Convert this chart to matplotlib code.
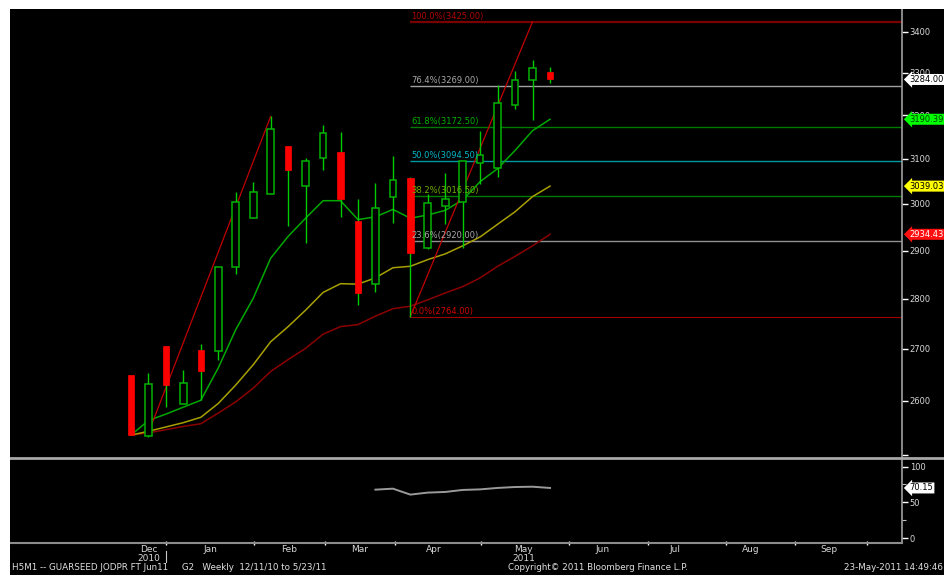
import matplotlib
matplotlib.use("Agg")
import matplotlib.pyplot as plt
from matplotlib.patches import Rectangle
from matplotlib.lines import Line2D
from matplotlib.ticker import FixedLocator, FixedFormatter, NullLocator

# ---------------- data (weekly bars, 12/11/10 to 5/23/11) ----------------
opens  = [2649, 2535, 2706, 2593, 2698, 2696, 2866, 2970, 3022, 3130, 3040, 3101, 3115,
          2964, 2830, 3016, 3058, 2905, 2996, 3005, 3090, 3080, 3224, 3283, 3301]
highs  = [2649, 2653, 2706, 2659, 2709, 2866, 3026, 3048, 3197, 3130, 3101, 3176, 3161,
          3011, 3046, 3107, 3060, 3022, 3068, 3096, 3163, 3272, 3305, 3331, 3313]
lows   = [2536, 2533, 2589, 2593, 2601, 2679, 2850, 2970, 3022, 2953, 2916, 3075, 2971,
          2787, 2814, 2959, 2764, 2903, 2957, 2905, 3044, 3060, 3214, 3189, 3276]
closes = [2536, 2632, 2630, 2634, 2656, 2866, 3005, 3026, 3169, 3075, 3095, 3158, 3010,
          2812, 2992, 3053, 2895, 3003, 3011, 3094, 3109, 3228, 3283, 3312, 3284]

ma_fast = [2536, 2563, 2575, 2588, 2601, 2663, 2738, 2801, 2884, 2930, 2969, 3007, 3007,
           2966, 2972, 2988, 2969, 2976, 2986, 3009, 3049, 3078, 3119, 3164, 3190.39]
ma_mid  = [2536, 2543, 2551, 2559, 2569, 2595, 2630, 2669, 2714, 2744, 2777, 2813, 2831,
           2830, 2843, 2864, 2867, 2881, 2893, 2910, 2929, 2956, 2983, 3016, 3039.03]
ma_slow = [2536, 2540, 2546, 2552, 2557, 2577, 2598, 2624, 2656, 2679, 2701, 2729, 2744,
           2748, 2765, 2780, 2785, 2798, 2812, 2825, 2843, 2867, 2888, 2910, 2934.43]

rsi_start = 14
rsi_vals = [67.8, 69.2, 60.9, 63.7, 64.6, 67.4, 68.2, 70.2, 71.5, 71.9, 70.15]

trend1 = [(1, 2540), (8, 3197)]
trend2 = [(16, 2764), (23, 3425)]

fib_pcts   = [100.0, 76.4, 61.8, 50.0, 38.2, 23.6, 0.0]
fib_levels = [3425.00, 3269.00, 3172.50, 3094.50, 3016.50, 2920.00, 2764.00]
fib_start = 16

price_ticks = [2500, 2600, 2700, 2800, 2900, 3000, 3100, 3200, 3300, 3400]
price_tick_labels = ["", "2600", "2700", "2800", "2900", "3000", "3100", "3200", "3300", "3400"]

month_bounds = [2.0, 7.04, 11.11, 15.12, 20.05, 25.09, 29.61, 34.08, 38.03, 42.15]
month_label_pos = [1.03, 4.53, 9.05, 13.1, 17.33, 22.5, 26.98, 31.16, 35.5, 40.0]
month_labels = ["Dec\n2010", "Jan", "Feb", "Mar", "Apr", "May\n2011", "Jun", "Jul", "Aug", "Sep"]

last_price = 3284.00

footer_left = "H5M1 -- GUARSEED JODPR FT Jun11     G2   Weekly  12/11/10 to 5/23/11"
footer_mid = "Copyright\u00a9 2011 Bloomberg Finance L.P."
footer_right = "23-May-2011 14:49:46"

# ---------------- layout helpers ----------------
W, H = 944, 575
def fx(px): return px / W
def fy(py): return 1 - py / H

fig = plt.figure(figsize=(W / 100, H / 100), dpi=100, facecolor="black")

XL = (-6.93, 44.16)
ax = fig.add_axes([fx(10), fy(457), fx(902) - fx(10), fy(9) - fy(457)], facecolor="black")
ax2 = fig.add_axes([fx(10), fy(543), fx(902) - fx(10), fy(459) - fy(543)], facecolor="black")

# ---------------- main panel ----------------
ax.set_yscale("log")
ax.set_ylim(2495.9, 3456.6)
ax.set_xlim(*XL)

x = list(range(len(opens)))
up_col = "#00b400"
wick_col = "#00cc00"
down_col = "#ff0000"
bw = 0.38

ax.vlines(x, lows, highs, color=wick_col, lw=1.0, zorder=3)
for i in x:
    o, c = opens[i], closes[i]
    lo, hi = min(o, c), max(o, c)
    if c >= o:
        ax.bar(i, hi - lo, bottom=lo, width=bw, facecolor="black", edgecolor=up_col,
               linewidth=1.1, zorder=4)
    else:
        ax.bar(i, hi - lo, bottom=lo, width=bw, facecolor=down_col, edgecolor=down_col,
               linewidth=0.5, zorder=4)

ax.plot(x, ma_slow, color="#8b0000", lw=1.1, zorder=2)
ax.plot(x, ma_mid, color="#a8a000", lw=1.1, zorder=2)
ax.plot(x, ma_fast, color="#00a800", lw=1.1, zorder=2)

for tl in (trend1, trend2):
    ax.plot([tl[0][0], tl[1][0]], [tl[0][1], tl[1][1]], color="#c00000", lw=0.9, zorder=2)

fib_line_cols = ["#7a0000", "#a0a0a0", "#007a00", "#009aa0", "#007a00", "#909090", "#a00000"]
fib_text_cols = ["#b00000", "#a8a8a8", "#00b000", "#00b8c8", "#70b000", "#a8a8a8", "#d00000"]
fib_lws = [1.6, 1.0, 1.0, 1.0, 1.0, 1.0, 0.8]
for p, lv, lc, tc, lw in zip(fib_pcts, fib_levels, fib_line_cols, fib_text_cols, fib_lws):
    ax.hlines(lv, fib_start, XL[1], color=lc, lw=lw, zorder=1)
    ax.annotate(f"{p:.1f}%({lv:.2f})", (fib_start, lv), xytext=(0.8, 0.8),
                textcoords="offset points", va="bottom", ha="left", fontsize=6,
                color=tc, zorder=5)

ax.yaxis.tick_right()
ax.yaxis.set_major_locator(FixedLocator(price_ticks))
ax.yaxis.set_major_formatter(FixedFormatter(price_tick_labels))
ax.yaxis.set_minor_locator(NullLocator())
ax.tick_params(axis="y", which="major", direction="out", length=4, width=1,
               color="white", labelcolor="#d8d8d8", labelsize=6, pad=1.5)
ax.tick_params(axis="x", which="both", bottom=False, labelbottom=False)
for s in ("left", "top", "bottom"):
    ax.spines[s].set_visible(False)
ax.spines["right"].set_color("#a0a0a0")
ax.spines["right"].set_linewidth(1.2)

# right tags
tags = [(last_price, "white", "black"), (ma_fast[-1], "#00ff00", "#004000"),
        (ma_mid[-1], "#ffff00", "#000000"), (ma_slow[-1], "#ff1010", "white")]
for v, bg, fg in tags:
    ax.annotate(f"{v:.2f}", xy=(1.0, v), xycoords=("axes fraction", "data"),
                xytext=(5.5, 0), textcoords="offset points", va="center", ha="left",
                fontsize=6, color=fg, annotation_clip=False, zorder=10,
                bbox=dict(boxstyle="larrow,pad=0.12", fc=bg, ec="none"))

# ---------------- lower panel ----------------
ax2.set_xlim(*XL)
ax2.set_ylim(-6.5, 110.5)
ax2.plot(range(rsi_start, rsi_start + len(rsi_vals)), rsi_vals, color="#9a9a9a", lw=1.4)
ax2.yaxis.tick_right()
ax2.yaxis.set_major_locator(FixedLocator([0, 50, 100]))
ax2.yaxis.set_minor_locator(FixedLocator([25, 75]))
ax2.tick_params(axis="y", which="major", direction="out", length=4, width=1,
                color="white", labelcolor="#d8d8d8", labelsize=6, pad=1.5)
ax2.tick_params(axis="y", which="minor", direction="out", length=3, width=0.8, color="#c0c0c0")
ax2.annotate(f"{rsi_vals[-1]:.2f}", xy=(1.0, rsi_vals[-1]), xycoords=("axes fraction", "data"),
             xytext=(5.5, 0), textcoords="offset points", va="center", ha="left",
             fontsize=6, color="black", annotation_clip=False, zorder=10,
             bbox=dict(boxstyle="larrow,pad=0.12", fc="white", ec="none"))

ax2.xaxis.set_major_locator(FixedLocator(month_bounds))
ax2.xaxis.set_major_formatter(FixedFormatter([""] * len(month_bounds)))
ax2.xaxis.set_minor_locator(FixedLocator(month_label_pos))
ax2.xaxis.set_minor_formatter(FixedFormatter(month_labels))
ax2.tick_params(axis="x", which="major", direction="inout", length=3, width=1, color="white")
ax2.tick_params(axis="x", which="minor", length=0, labelsize=6.5, labelcolor="#d8d8d8", pad=1.5)
for lbl in ax2.xaxis.get_minorticklabels():
    lbl.set_linespacing(1.0)
for s in ("left", "top"):
    ax2.spines[s].set_visible(False)
ax2.spines["right"].set_color("#a0a0a0")
ax2.spines["right"].set_linewidth(1.2)
ax2.spines["bottom"].set_color("#8c8c8c")
ax2.spines["bottom"].set_linewidth(1.5)

# ---------------- figure decorations ----------------
fig.add_artist(Rectangle((0, fy(9)), 1, 1 - fy(9), transform=fig.transFigure,
                         facecolor="white", edgecolor="none", zorder=20))
fig.add_artist(Rectangle((0, 0), fx(10), 1, transform=fig.transFigure,
                         facecolor="white", edgecolor="none", zorder=20))
fig.add_artist(Line2D([fx(10), 1], [fy(458), fy(458)], transform=fig.transFigure,
                      color="#a8a8a8", lw=2.0, zorder=15))
fig.add_artist(Line2D([fx(166), fx(166)], [fy(551), fy(562)], transform=fig.transFigure,
                      color="#c8c8c8", lw=0.8))

fig.text(fx(12), fy(567), footer_left, fontsize=6.3, color="#e0e0e0", va="center", ha="left")
fig.text(fx(598), fy(567), footer_mid, fontsize=6.3, color="#e0e0e0", va="center", ha="center")
fig.text(fx(943), fy(567), footer_right, fontsize=6.3, color="#e0e0e0", va="center", ha="right")

fig.savefig("out.png", dpi=100, facecolor="black")
